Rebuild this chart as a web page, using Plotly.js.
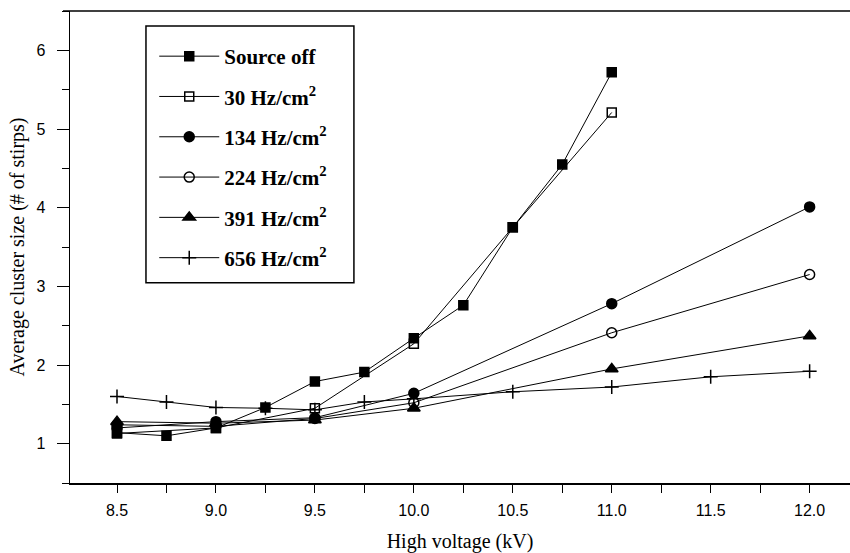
<!DOCTYPE html>
<html>
<head>
<meta charset="utf-8">
<script src="https://cdn.plot.ly/plotly-3.0.1.min.js"></script>
<style>html,body{margin:0;padding:0;background:#fff;}#chart{width:850px;height:553px;}</style>
</head>
<body>
<div id="chart"></div>
<script>
// High voltage (kV) values for each series
var hvOff = [8.5, 8.75, 9.0, 9.25, 9.5, 9.75, 10.0, 10.25, 10.5, 10.75, 11.0];
var hv30 = [8.5, 9.0, 9.5, 10.0, 10.5, 11.0];
var hvMid = [8.5, 9.0, 9.5, 10.0, 11.0, 12.0];
var hv656 = [8.5, 8.75, 9.0, 9.25, 9.5, 9.75, 10.0, 10.5, 11.0, 11.5, 12.0];

// Average cluster size (# of strips)
var sourceOff = [1.14, 1.10, 1.20, 1.46, 1.79, 1.91, 2.34, 2.76, 3.75, 4.55, 5.72];
var rate30 = [1.13, 1.20, 1.45, 2.27, 3.75, 5.21];
var rate134 = [1.20, 1.28, 1.33, 1.64, 2.78, 4.01];
var rate224 = [1.24, 1.22, 1.32, 1.52, 2.41, 3.15];
var rate391 = [1.28, 1.26, 1.30, 1.45, 1.95, 2.37];
var rate656 = [1.60, 1.53, 1.46, 1.45, 1.43, 1.53, 1.57, 1.66, 1.72, 1.85, 1.92];

var names = ["Source off", "30 Hz/cm<sup>2</sup>", "134 Hz/cm<sup>2</sup>",
             "224 Hz/cm<sup>2</sup>", "391 Hz/cm<sup>2</sup>", "656 Hz/cm<sup>2</sup>"];

var xTickVals = [8.5, 9.0, 9.5, 10.0, 10.5, 11.0, 11.5, 12.0];
var xTickText = ["8.5", "9.0", "9.5", "10.0", "10.5", "11.0", "11.5", "12.0"];
var yTickVals = [1, 2, 3, 4, 5, 6];

function mk(x, y, name, symbol, size, group) {
  return {
    x: x, y: y, name: name, type: "scatter", mode: "lines+markers",
    legendgroup: group,
    line: {color: "#000", width: 1},
    marker: {symbol: symbol, size: size, color: "#000", line: {color: "#000", width: 1.5}}
  };
}

var data = [
  mk(hvOff, sourceOff, names[0], "square", 9, "a"),
  mk(hv30, rate30, names[1], "square-open", 9, "b"),
  mk(hvMid, rate134, names[2], "circle", 10, "c"),
  mk(hvMid, rate224, names[3], "circle-open", 10, "d"),
  mk(hvMid, rate391, names[4], "triangle-up", 11, "e"),
  mk(hv656, rate656, names[5], "cross-thin-open", 10, "f")
];

var serif = "Liberation Serif, Times New Roman, serif";
var sans = "Liberation Sans Narrow, Arial Narrow, Liberation Sans, sans-serif";

var layout = {
  width: 850, height: 553,
  margin: {l: 70, r: 0, t: 11, b: 70},
  paper_bgcolor: "#fff", plot_bgcolor: "#fff",
  showlegend: true,
  legend: {
    x: 0.108, y: 0.947, xanchor: "left", yanchor: "top",
    bgcolor: "rgba(0,0,0,0)", borderwidth: 0,
    font: {family: serif, size: 21, color: "#000", weight: "bold"},
    traceorder: "grouped", tracegroupgap: 10, itemwidth: 60
  },
  xaxis: {
    range: [8.2625, 12.204], showgrid: false, zeroline: false,
    showline: true, linecolor: "#000", linewidth: 1.5,
    ticks: "outside", ticklen: 8, tickwidth: 1, tickcolor: "#000",
    tickvals: xTickVals, ticktext: xTickText, ticklabelstandoff: 4,
    tickfont: {family: sans, size: 16, color: "#000"},
    minor: {dtick: 0.5, tick0: 8.75, ticks: "outside", ticklen: 8, tickcolor: "#000", showgrid: false},
    title: {text: "High voltage (kV)", standoff: 16,
            font: {family: serif, size: 20, color: "#000"}}
  },
  yaxis: {
    range: [0.5, 6.5], showgrid: false, zeroline: false,
    showline: true, linecolor: "#000", linewidth: 1.5,
    ticks: "outside", ticklen: 12, tickwidth: 1, tickcolor: "#000",
    tickvals: yTickVals, ticklabelstandoff: 8,
    tickfont: {family: sans, size: 16, color: "#000"},
    minor: {dtick: 1, tick0: 1.5, ticks: "outside", ticklen: 7, tickcolor: "#000", showgrid: false},
    title: {text: "Average cluster size (# of stirps)", standoff: 6,
            font: {family: serif, size: 20, color: "#000"}}
  },
  shapes: [
    {type: "line", xref: "paper", yref: "paper", x0: -0.009, x1: 1, y0: 1, y1: 1,
     line: {color: "#000", width: 1.5}},
    {type: "rect", xref: "paper", yref: "paper", x0: 0.0974, x1: 0.364, y0: 0.424, y1: 0.968,
     line: {color: "#000", width: 1.5}, fillcolor: "rgba(0,0,0,0)", layer: "below"}
  ]
};

Plotly.newPlot("chart", data, layout, {displayModeBar: false, staticPlot: true});
</script>
</body>
</html>
